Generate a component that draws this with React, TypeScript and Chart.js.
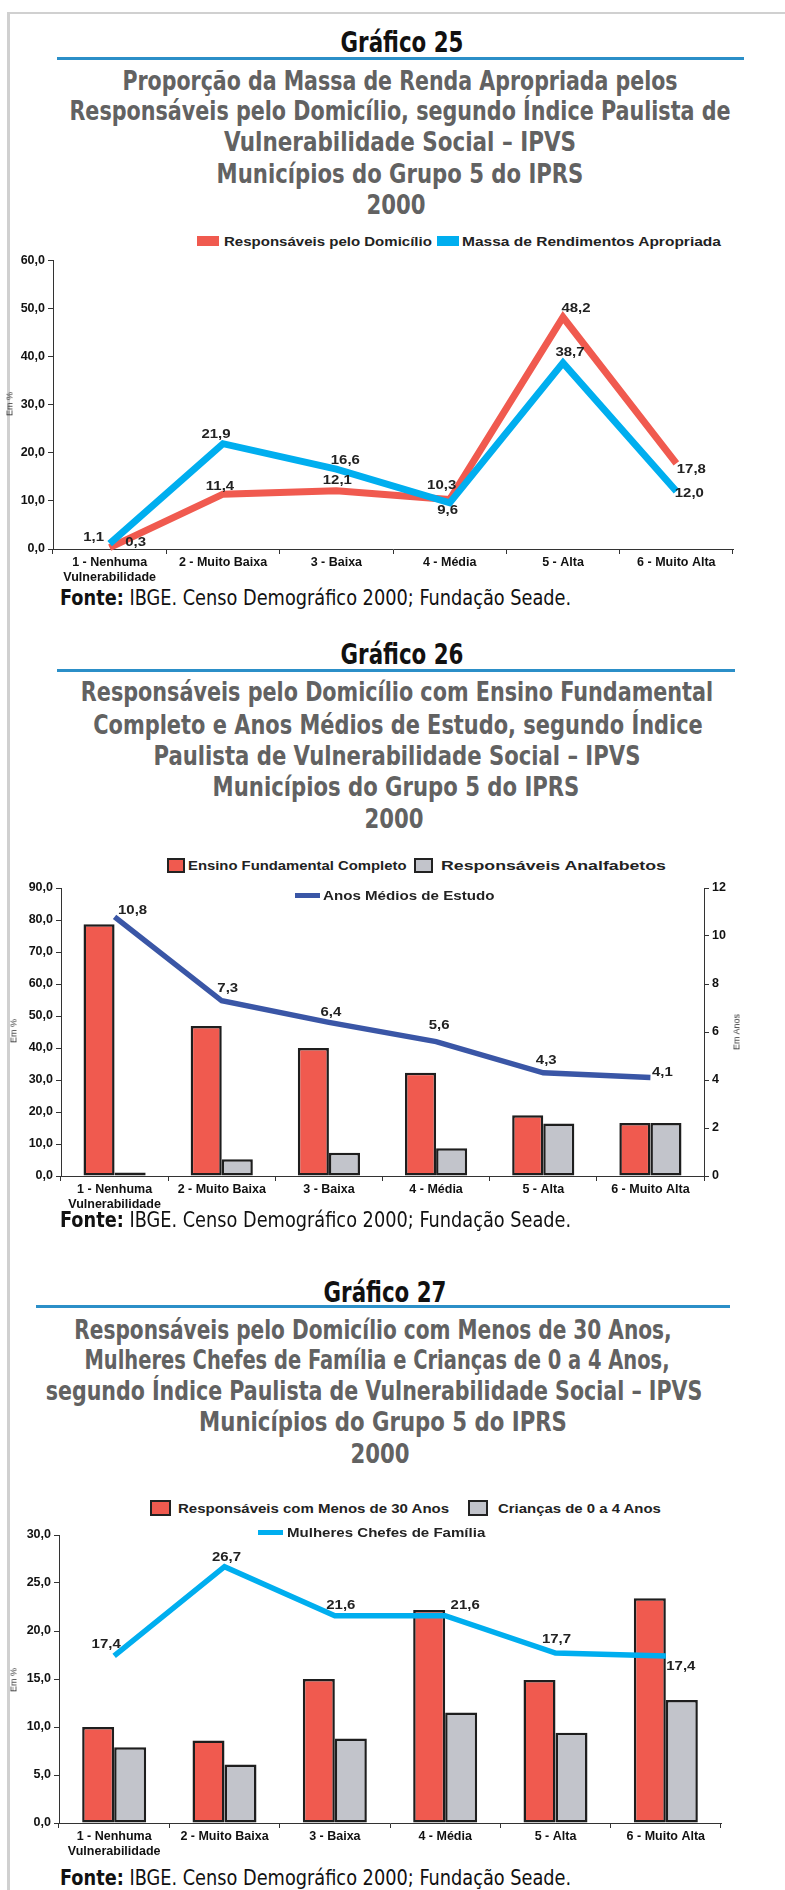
import React, { useEffect, useLayoutEffect, useRef } from 'react';
import { Chart, registerables } from 'chart.js';

Chart.register(...registerables);

// ---------- DATA ----------
const categories: (string | string[])[] = [
  ['1 - Nenhuma', 'Vulnerabilidade'],
  '2 - Muito Baixa',
  '3 - Baixa',
  '4 - Média',
  '5 - Alta',
  '6 - Muito Alta',
];

// Gráfico 25
const g25Responsaveis = [0.3, 11.4, 12.1, 10.3, 48.2, 17.8];
const g25Massa = [1.1, 21.9, 16.6, 9.6, 38.7, 12.0];

// Gráfico 26
const g26Fundamental = [78.7, 46.9, 40.0, 32.3, 19.0, 16.6];
const g26Analfabetos = [1.1, 5.2, 7.3, 8.7, 16.4, 16.6];
const g26AnosMedios = [10.8, 7.3, 6.4, 5.6, 4.3, 4.1];

// Gráfico 27
const g27Menos30 = [10.0, 8.6, 15.0, 22.2, 14.9, 23.4];
const g27Criancas = [7.9, 6.1, 8.8, 11.5, 9.4, 12.8];
const g27Mulheres = [17.4, 26.7, 21.6, 21.6, 17.7, 17.4];

// axis ranges
const g25Axis = { min: 0, max: 60, step: 10 };
const g26Axis = { min: 0, max: 90, step: 10 };
const g26AxisRight = { min: 0, max: 12, step: 2 };
const g27Axis = { min: 0, max: 30, step: 5 };

// ---------- STYLE ----------
const RED = '#f05a4f';
const CYAN = '#00aeef';
const DARKBLUE = '#3a56a6';
const GRAY = '#c2c4cb';
const EDGE = '#1e1e1e';
const SANS = '"Liberation Sans", Arial, Helvetica, sans-serif';
const COND = '"Liberation Sans Narrow", "DejaVu Sans Condensed", "Arial Narrow", sans-serif';

// label offsets (dx, dy) from each point
const off25Resp = [[26, -5], [-3, -8], [1, -10], [-8, -14], [13, -9], [15, 6]];
const off25Massa = [[-16, -6], [-7, -9], [9, -9], [-2, 8], [7, -10], [13, 2]];
const off26Anos = [[18, -6], [6, -12], [2, -10], [3, -16], [3, -12], [12, -5]];
const off27Mulheres = [[-8, -12], [2, -9], [6, -10], [20, -10], [1, -14], [15, 10]];

const fmt1 = (v: any) => Number(v).toFixed(1).replace('.', ',');
const fmtInt = (v: any) => String(v);

const valueLabels = {
  id: 'valueLabels',
  afterDatasetsDraw(chart: any) {
    const ctx = chart.ctx;
    chart.data.datasets.forEach((ds: any, i: number) => {
      const offs = ds.labelOffsets;
      if (!offs) return;
      const meta = chart.getDatasetMeta(i);
      meta.data.forEach((el: any, j: number) => {
        ctx.save();
        ctx.font = `bold 13px ${SANS}`;
        ctx.fillStyle = '#222';
        ctx.textAlign = 'center';
        ctx.textBaseline = 'middle';
        ctx.translate(el.x + offs[j][0], el.y + offs[j][1]);
        ctx.scale(1.15, 1);
        ctx.fillText(fmt1(ds.data[j]), 0, 0);
        ctx.restore();
      });
    });
  },
};

const tickFont = { family: SANS, size: 12.5, weight: 'bold' as const };

function xScale(h: number) {
  return {
    type: 'category',
    offset: true,
    grid: { offset: true, drawOnChartArea: false, drawTicks: true, tickLength: 5, color: '#333', lineWidth: 1 },
    border: { display: true, color: '#333', width: 1 },
    ticks: { color: '#111', font: tickFont, padding: 1, maxRotation: 0, autoSkip: false },
    afterFit: (s: any) => { s.height = h; },
  };
}

function yScale(ax: { min: number; max: number; step: number }, w: number, fmt: (v: any) => string, position = 'left') {
  return {
    type: 'linear',
    position,
    min: ax.min,
    max: ax.max,
    ticks: { stepSize: ax.step, callback: fmt, color: '#111', font: tickFont, padding: 3 },
    grid: { drawOnChartArea: false, drawTicks: true, tickLength: 5, color: '#333', lineWidth: 1 },
    border: { display: true, color: '#333', width: 1 },
    afterFit: (s: any) => { s.width = w; },
  };
}

function ChartCanvas({ top, height, make }: { top: number; height: number; make: () => any }) {
  const ref = useRef<HTMLCanvasElement | null>(null);
  useEffect(() => {
    const c = new Chart(ref.current as HTMLCanvasElement, make());
    return () => c.destroy();
  }, []);
  return (
    <canvas
      ref={ref}
      width={785}
      height={height}
      style={{ position: 'absolute', left: 0, top, width: 785, height }}
    />
  );
}

// text that is horizontally fitted to a target width
function FitText({ x, y, w, children, center = false, style }: any) {
  const ref = useRef<HTMLDivElement | null>(null);
  useLayoutEffect(() => {
    const el = ref.current;
    if (!el) return;
    const apply = () => {
      const natural = el.offsetWidth || 1;
      const s = w / natural;
      el.style.transform = center
        ? `translate(-50%, -50%) scaleX(${s})`
        : `translateY(-50%) scaleX(${s})`;
    };
    apply();
    if ((document as any).fonts && (document as any).fonts.ready) {
      (document as any).fonts.ready.then(apply);
    }
  }, []);
  return (
    <div
      ref={ref}
      style={{
        position: 'absolute', left: x, top: y, whiteSpace: 'nowrap', lineHeight: 1,
        transformOrigin: center ? 'center center' : 'left center',
        transform: center ? 'translate(-50%, -50%)' : 'translateY(-50%)',
        ...style,
      }}
    >
      {children}
    </div>
  );
}

function Heading({ x, y, w, text }: any) {
  return (
    <FitText x={x} y={y} w={w} center style={{ fontFamily: COND, fontWeight: 'bold', fontSize: 28, color: '#111' }}>
      {text}
    </FitText>
  );
}

function Sub({ x, y, w, text }: any) {
  return (
    <FitText x={x} y={y} w={w} center style={{ fontFamily: COND, fontWeight: 'bold', fontSize: 26, color: '#626262' }}>
      {text}
    </FitText>
  );
}

function Rule({ x1, x2, y }: any) {
  return <div style={{ position: 'absolute', left: x1, top: y - 1, width: x2 - x1, height: 3, background: '#2b8fc8' }} />;
}

function LegendText({ x, y, w, text }: any) {
  return (
    <FitText x={x} y={y} w={w} style={{ fontFamily: SANS, fontWeight: 'bold', fontSize: 13, color: '#222' }}>
      {text}
    </FitText>
  );
}

function Box({ x, y, w, h, color, border }: any) {
  return (
    <div
      style={{
        position: 'absolute', left: x, top: y - h / 2, width: w, height: h, boxSizing: 'border-box',
        background: color, border: border ? '2px solid #222' : 'none',
      }}
    />
  );
}

function AxisTitle({ x, y, text }: any) {
  return (
    <div
      style={{
        position: 'absolute', left: x, top: y, whiteSpace: 'nowrap',
        transform: 'translate(-50%, -50%) rotate(-90deg)',
        fontFamily: SANS, fontSize: 9, color: '#333', lineHeight: 1,
      }}
    >
      {text}
    </div>
  );
}

function Fonte({ y }: any) {
  return (
    <FitText x={60} y={y} w={511} style={{ fontFamily: COND, fontSize: 21, color: '#111' }}>
      <b>Fonte:</b> IBGE. Censo Demográfico 2000; Fundação Seade.
    </FitText>
  );
}

// ---------- CHART CONFIGS ----------
function make25() {
  return {
    type: 'line',
    data: {
      labels: categories,
      datasets: [
        { label: 'Responsáveis pelo Domicílio', data: g25Responsaveis, borderColor: RED, backgroundColor: RED, borderWidth: 7, pointRadius: 0, tension: 0, order: 2, clip: false, labelOffsets: off25Resp },
        { label: 'Massa de Rendimentos Apropriada', data: g25Massa, borderColor: CYAN, backgroundColor: CYAN, borderWidth: 7, pointRadius: 0, tension: 0, order: 1, clip: false, labelOffsets: off25Massa },
      ],
    },
    options: {
      responsive: false,
      animation: false,
      layout: { padding: { left: 0, right: 52, top: 10, bottom: 0 } },
      plugins: { legend: { display: false }, tooltip: { enabled: false } },
      scales: { x: xScale(36), y: yScale(g25Axis, 53, fmt1) },
    },
    plugins: [valueLabels],
  };
}

const barStyle = { borderColor: EDGE, borderWidth: 2.5, borderSkipped: false, barPercentage: 1, categoryPercentage: 0.58, order: 1 };

function make26() {
  return {
    type: 'bar',
    data: {
      labels: categories,
      datasets: [
        { type: 'line', label: 'Anos Médios de Estudo', data: g26AnosMedios, yAxisID: 'y1', borderColor: DARKBLUE, backgroundColor: DARKBLUE, borderWidth: 5.5, pointRadius: 0, tension: 0, order: 0, clip: false, labelOffsets: off26Anos },
        { label: 'Ensino Fundamental Completo', data: g26Fundamental, yAxisID: 'y', backgroundColor: RED, ...barStyle },
        { label: 'Responsáveis Analfabetos', data: g26Analfabetos, yAxisID: 'y', backgroundColor: GRAY, ...barStyle },
      ],
    },
    options: {
      responsive: false,
      animation: false,
      layout: { padding: { left: 0, right: 0, top: 13, bottom: 0 } },
      plugins: { legend: { display: false }, tooltip: { enabled: false } },
      scales: { x: xScale(36), y: yScale(g26Axis, 61, fmt1), y1: yScale(g26AxisRight, 81, fmtInt, 'right') },
    },
    plugins: [valueLabels],
  };
}

function make27() {
  return {
    type: 'bar',
    data: {
      labels: categories,
      datasets: [
        { type: 'line', label: 'Mulheres Chefes de Família', data: g27Mulheres, yAxisID: 'y', borderColor: CYAN, backgroundColor: CYAN, borderWidth: 5.5, pointRadius: 0, tension: 0, order: 0, clip: false, labelOffsets: off27Mulheres },
        { label: 'Responsáveis com Menos de 30 Anos', data: g27Menos30, yAxisID: 'y', backgroundColor: RED, ...barStyle },
        { label: 'Crianças de 0 a 4 Anos', data: g27Criancas, yAxisID: 'y', backgroundColor: GRAY, ...barStyle },
      ],
    },
    options: {
      responsive: false,
      animation: false,
      layout: { padding: { left: 0, right: 64, top: 15, bottom: 0 } },
      plugins: { legend: { display: false }, tooltip: { enabled: false } },
      scales: { x: xScale(33), y: yScale(g27Axis, 59, fmt1) },
    },
    plugins: [valueLabels],
  };
}

export default function App() {
  return (
    <div style={{ position: 'absolute', left: 0, top: 0, width: 785, height: 1890, overflow: 'hidden', background: '#fff' }}>
      {/* page frame */}
      <div style={{ position: 'absolute', left: 7, top: 12, width: 3, height: 1878, background: '#d0d0d0' }} />
      <div style={{ position: 'absolute', left: 7, top: 12, width: 778, height: 2, background: '#d0d0d0' }} />

      {/* ---- Gráfico 25 ---- */}
      <Heading x={402} y={43} w={123} text="Gráfico 25" />
      <Rule x1={57} x2={744} y={58} />
      <Sub x={400} y={81} w={555} text="Proporção da Massa de Renda Apropriada pelos" />
      <Sub x={400} y={111} w={661} text="Responsáveis pelo Domicílio, segundo Índice Paulista de" />
      <Sub x={400} y={142} w={352} text="Vulnerabilidade Social – IPVS" />
      <Sub x={400} y={174} w={367} text="Municípios do Grupo 5 do IPRS" />
      <Sub x={396} y={205} w={59} text="2000" />
      <Box x={197} y={241} w={22} h={10} color={RED} />
      <LegendText x={224} y={241} w={208} text="Responsáveis pelo Domicílio" />
      <Box x={437} y={241} w={22} h={10} color={CYAN} />
      <LegendText x={462} y={241} w={259} text="Massa de Rendimentos Apropriada" />
      <ChartCanvas top={250} height={335} make={make25} />
      <AxisTitle x={10} y={404} text="Em %" />
      <Fonte y={598} />

      {/* ---- Gráfico 26 ---- */}
      <Heading x={402} y={655} w={123} text="Gráfico 26" />
      <Rule x1={57} x2={735} y={670} />
      <Sub x={397} y={692} w={632} text="Responsáveis pelo Domicílio com Ensino Fundamental" />
      <Sub x={398} y={725} w={610} text="Completo e Anos Médios de Estudo, segundo Índice" />
      <Sub x={397} y={756} w={487} text="Paulista de Vulnerabilidade Social – IPVS" />
      <Sub x={396} y={787} w={367} text="Municípios do Grupo 5 do IPRS" />
      <Sub x={394} y={819} w={59} text="2000" />
      <Box x={167} y={865} w={18} h={15} color={RED} border />
      <LegendText x={188} y={865} w={218} text="Ensino Fundamental Completo" />
      <Box x={414} y={865} w={19} h={15} color={GRAY} border />
      <LegendText x={441} y={865} w={225} text="Responsáveis Analfabetos" />
      <ChartCanvas top={875} height={337} make={make26} />
      <div style={{ position: 'absolute', left: 295, top: 893, width: 25, height: 5, background: DARKBLUE }} />
      <LegendText x={323} y={895} w={171} text="Anos Médios de Estudo" />
      <AxisTitle x={14} y={1031} text="Em %" />
      <AxisTitle x={737} y={1032} text="Em Anos" />
      <Fonte y={1220} />

      {/* ---- Gráfico 27 ---- */}
      <Heading x={385} y={1293} w={123} text="Gráfico 27" />
      <Rule x1={36} x2={730} y={1306} />
      <Sub x={373} y={1330} w={597} text="Responsáveis pelo Domicílio com Menos de 30 Anos," />
      <Sub x={377} y={1360} w={585} text="Mulheres Chefes de Família e Crianças de 0 a 4 Anos," />
      <Sub x={374} y={1391} w={657} text="segundo Índice Paulista de Vulnerabilidade Social – IPVS" />
      <Sub x={383} y={1422} w={368} text="Municípios do Grupo 5 do IPRS" />
      <Sub x={380} y={1454} w={59} text="2000" />
      <Box x={150} y={1508} w={21} h={16} color={RED} border />
      <LegendText x={178} y={1508} w={271} text="Responsáveis com Menos de 30 Anos" />
      <Box x={468} y={1508} w={20} h={16} color={GRAY} border />
      <LegendText x={498} y={1508} w={163} text="Crianças de 0 a 4 Anos" />
      <ChartCanvas top={1520} height={336} make={make27} />
      <div style={{ position: 'absolute', left: 258, top: 1530, width: 25, height: 5, background: CYAN }} />
      <LegendText x={287} y={1532} w={198} text="Mulheres Chefes de Família" />
      <AxisTitle x={14} y={1680} text="Em %" />
      <Fonte y={1878} />
    </div>
  );
}
